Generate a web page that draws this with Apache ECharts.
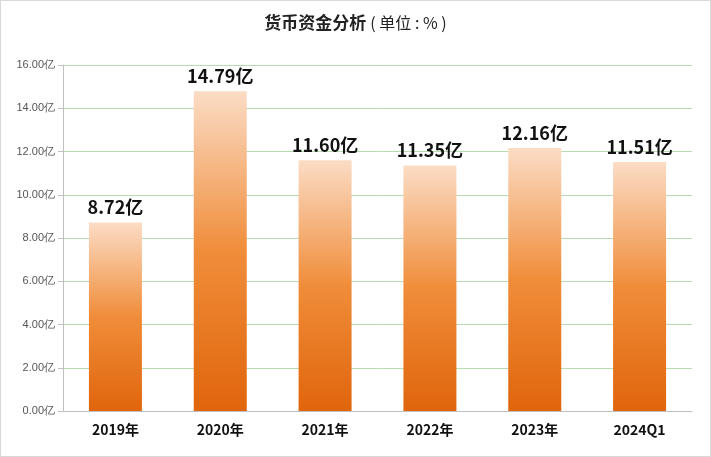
<!DOCTYPE html>
<html><head><meta charset="utf-8">
<script src="https://cdn.jsdelivr.net/npm/echarts@6/dist/echarts.min.js"></script>
<style>html,body{margin:0;padding:0;background:#fff}
#c{width:709px;height:455px;border:1px solid #d9d9d9}</style>
</head><body><div id="c"></div>
<script>
var categories = ['2019年', '2020年', '2021年', '2022年', '2023年', '2024Q1'];
var values = [8.72, 14.79, 11.60, 11.35, 12.16, 11.51];

var chart = echarts.init(document.getElementById('c'));
chart.setOption({
    title: {
        text: '货币资金分析{n|( 单位 : % )}',
        left: 'center',
        top: 8,
        textStyle: {fontSize: 17, fontWeight: 'bold', color: '#222', fontFamily: 'Noto Sans CJK SC',
            rich: {n: {fontSize: 16, fontWeight: 'normal', color: '#222', fontFamily: 'Noto Sans CJK SC', padding: [0, 0, 0, 4]}}}
    },
    grid: {left: 62, right: 18, top: 64, bottom: 45},
    xAxis: {
        type: 'category',
        data: categories,
        axisLine: {lineStyle: {color: '#bfbfbf'}},
        axisTick: {show: false},
        axisLabel: {color: '#111', fontWeight: 'bold', fontSize: 14, margin: 12, fontFamily: 'Noto Sans CJK SC'}
    },
    yAxis: {
        type: 'value',
        min: 0, max: 16, interval: 2,
        axisLine: {show: true, lineStyle: {color: '#bfbfbf'}},
        axisTick: {show: true, lineStyle: {color: '#bfbfbf'}},
        splitLine: {lineStyle: {color: '#b7dcb0'}},
        axisLabel: {color: '#555', fontSize: 11, formatter: function (v) { return v.toFixed(2) + '亿'; }}
    },
    series: [{
        type: 'bar',
        data: values,
        barWidth: 53,
        itemStyle: {
            color: new echarts.graphic.LinearGradient(0, 0, 0, 1, [
                {offset: 0, color: '#fbdcc5'},
                {offset: 0.5, color: '#f08d3a'},
                {offset: 1, color: '#e0650c'}
            ])
        },
        label: {
            show: true, position: 'top', distance: 6,
            color: '#111', fontWeight: 'bold', fontSize: 18, fontFamily: 'Noto Sans CJK SC',
            formatter: function (p) { return p.value.toFixed(2) + '亿'; }
        }
    }]
});
</script></body></html>
